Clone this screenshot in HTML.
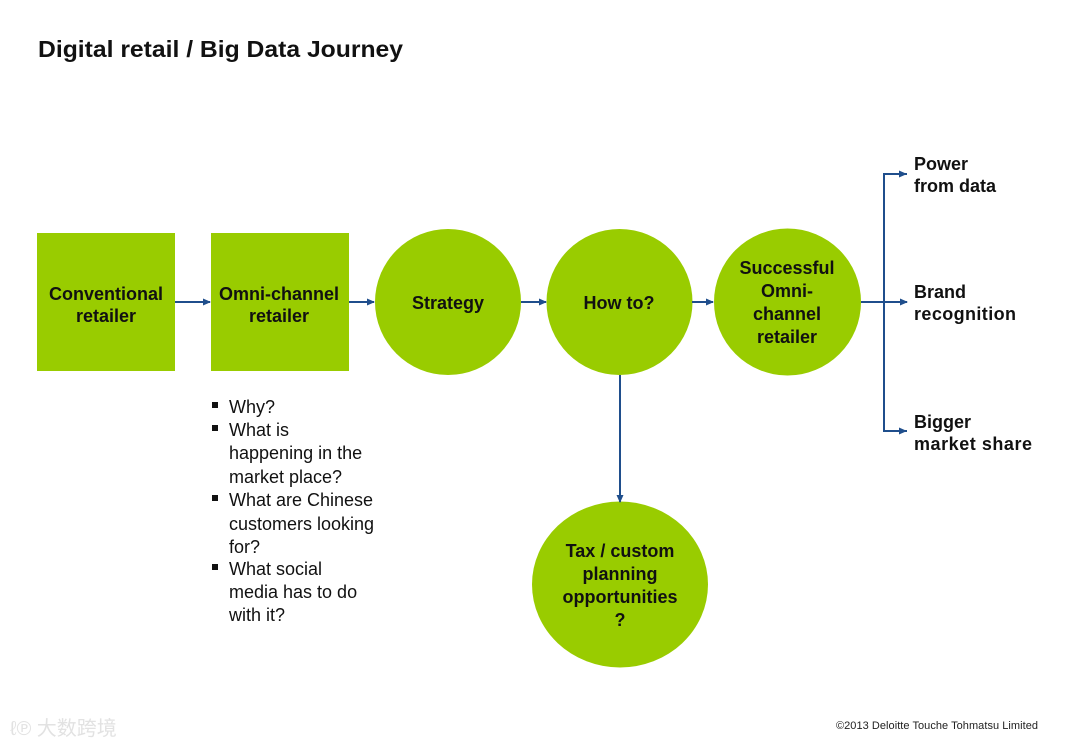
<!DOCTYPE html>
<html><head><meta charset="utf-8"><style>
html,body{margin:0;padding:0;background:#fff}
svg{display:block}
text{font-family:"Liberation Sans",Arial,sans-serif}
.b{font-weight:bold;font-size:18px;fill:#111}
.n{font-size:18px;fill:#111}
</style></head><body>
<svg width="1080" height="748" viewBox="0 0 1080 748" xmlns="http://www.w3.org/2000/svg">
<defs><marker id="a" markerWidth="8" markerHeight="8" refX="7" refY="4" orient="auto" markerUnits="userSpaceOnUse"><path d="M0,0.5 L8,4 L0,7.5 Z" fill="#1f4e8c"/></marker></defs>
<text x="38" y="57" font-size="23" font-weight="bold" fill="#111" textLength="365" lengthAdjust="spacingAndGlyphs">Digital retail / Big Data Journey</text>
<g fill="#99cc00">
<rect x="37" y="233" width="138" height="138"/>
<rect x="211" y="233" width="138" height="138"/>
<circle cx="448" cy="302" r="73"/>
<circle cx="619.5" cy="302" r="73"/>
<circle cx="787.5" cy="302" r="73.5"/>
<ellipse cx="620" cy="584.5" rx="88" ry="83"/>
</g>
<g stroke="#1f4e8c" stroke-width="2" fill="none">
<line x1="175" y1="302" x2="210" y2="302" marker-end="url(#a)"/>
<line x1="349" y1="302" x2="374" y2="302" marker-end="url(#a)"/>
<line x1="521" y1="302" x2="546" y2="302" marker-end="url(#a)"/>
<line x1="692" y1="302" x2="713" y2="302" marker-end="url(#a)"/>
<line x1="620" y1="375" x2="620" y2="502" marker-end="url(#a)"/>
<line x1="861" y1="302" x2="907" y2="302" marker-end="url(#a)"/>
<polyline points="907,174 884,174 884,431 907,431"/>
</g>
<path d="M899,170.5 L907,174 L899,177.5Z M899,427.5 L907,431 L899,434.5Z" fill="#1f4e8c"/>
<g class="b" text-anchor="middle">
<text x="106" y="300">Conventional</text><text x="106" y="322">retailer</text>
<text x="279" y="300">Omni-channel</text><text x="279" y="322">retailer</text>
<text x="448" y="309">Strategy</text>
<text x="619" y="309">How to?</text>
<text x="787" y="274">Successful</text><text x="787" y="297">Omni-</text><text x="787" y="320">channel</text><text x="787" y="343">retailer</text>
<text x="620" y="557">Tax / custom</text><text x="620" y="580">planning</text><text x="620" y="603">opportunities</text><text x="620" y="626">?</text>
</g>
<g class="b">
<text x="914" y="170">Power</text><text x="914" y="192">from data</text>
<text x="914" y="298">Brand</text><text x="914" y="320" textLength="102">recognition</text>
<text x="914" y="428">Bigger</text><text x="914" y="450" textLength="118">market share</text>
</g>
<g fill="#111">
<rect x="212" y="402" width="6" height="6"/>
<rect x="212" y="425" width="6" height="6"/>
<rect x="212" y="495" width="6" height="6"/>
<rect x="212" y="564" width="6" height="6"/>
</g>
<g class="n">
<text x="229" y="413">Why?</text>
<text x="229" y="436">What is</text>
<text x="229" y="459">happening in the</text>
<text x="229" y="483">market place?</text>
<text x="229" y="506">What are Chinese</text>
<text x="229" y="530">customers looking</text>
<text x="229" y="553">for?</text>
<text x="229" y="575">What social</text>
<text x="229" y="598">media has to do</text>
<text x="229" y="621">with it?</text>
</g>
<text x="10" y="735" font-size="20" fill="#e2e2e2" font-family="'Liberation Sans','Noto Sans CJK SC',sans-serif">ℓ℗ 大数跨境</text>
<text x="1038" y="729" font-size="11" fill="#222" text-anchor="end" textLength="202">©2013 Deloitte Touche Tohmatsu Limited</text>
</svg>
</body></html>
